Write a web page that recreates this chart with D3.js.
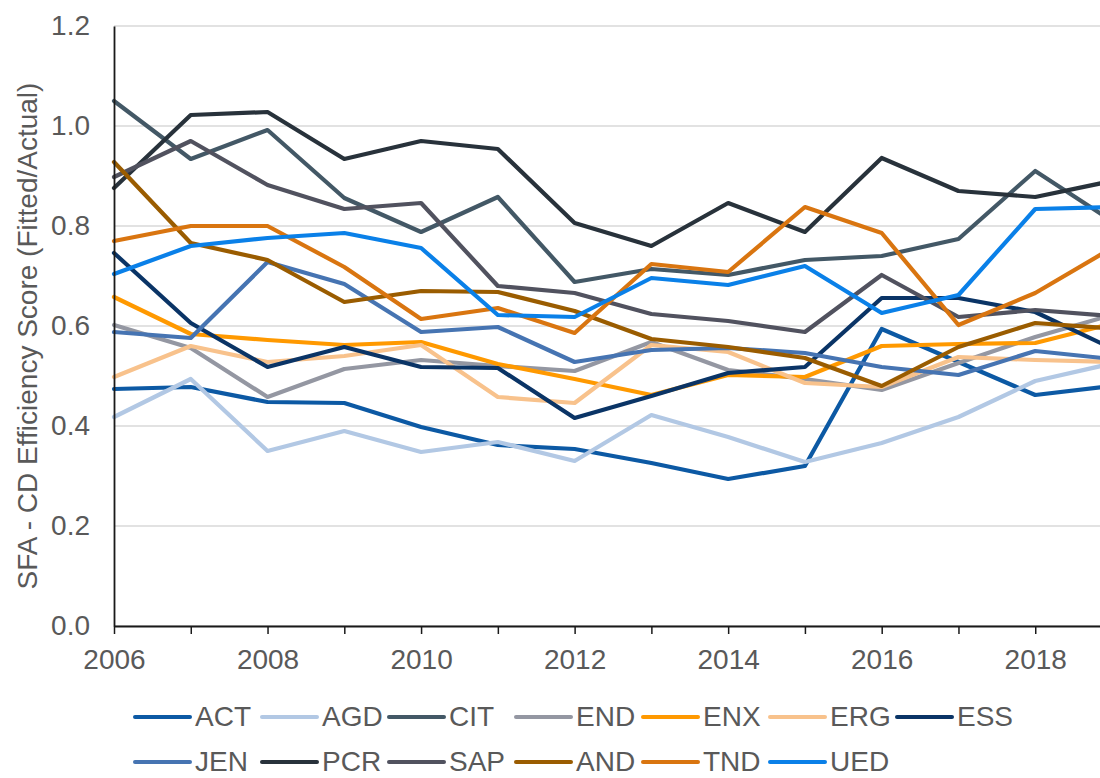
<!DOCTYPE html>
<html>
<head>
<meta charset="utf-8">
<script src="https://cdn.jsdelivr.net/npm/d3@7"></script>
<style>
  html, body { margin: 0; padding: 0; background: #fff; overflow: hidden; }
  svg { display: block; font-family: "Liberation Sans", Arial, sans-serif; }
</style>
</head>
<body>
<svg id="chart" width="1100" height="778"></svg>
<script>
const years = [2006,2007,2008,2009,2010,2011,2012,2013,2014,2015,2016,2017,2018,2019];
const yTicks = [0, 0.2, 0.4, 0.6, 0.8, 1.0, 1.2];
const xLabelYears = [2006, 2008, 2010, 2012, 2014, 2016, 2018];
const yTitle = "SFA - CD Efficiency Score (Fitted/Actual)";

const seriesNames = ["ACT","AGD","CIT","END","ENX","ERG","ESS","JEN","PCR","SAP","AND","TND","UED"];
const seriesColors = ["#0c59a4","#b2c8e4","#435866","#9497a2","#ff9900","#f8c28c","#0a3466","#4674b2","#28323b","#51525f","#9a5c00","#d97510","#0a80e8"];

const ACT = [0.474, 0.478, 0.448, 0.446, 0.398, 0.362, 0.354, 0.326, 0.294, 0.320, 0.594, 0.528, 0.462, 0.480];
const AGD = [0.418, 0.494, 0.350, 0.390, 0.348, 0.368, 0.330, 0.422, 0.378, 0.328, 0.366, 0.418, 0.490, 0.525];
const CIT = [1.050, 0.934, 0.992, 0.856, 0.788, 0.858, 0.688, 0.714, 0.702, 0.732, 0.740, 0.774, 0.910, 0.810];
const END = [0.602, 0.556, 0.458, 0.514, 0.532, 0.520, 0.510, 0.568, 0.512, 0.494, 0.472, 0.526, 0.578, 0.622];
const ENX = [0.658, 0.584, 0.572, 0.562, 0.568, 0.524, 0.494, 0.462, 0.502, 0.498, 0.560, 0.564, 0.566, 0.605];
const ERG = [0.498, 0.560, 0.528, 0.540, 0.562, 0.458, 0.446, 0.562, 0.548, 0.486, 0.478, 0.538, 0.532, 0.528];
const ESS = [0.746, 0.606, 0.518, 0.558, 0.518, 0.516, 0.416, 0.460, 0.506, 0.518, 0.656, 0.656, 0.628, 0.555];
const JEN = [0.588, 0.576, 0.728, 0.684, 0.588, 0.598, 0.528, 0.552, 0.556, 0.546, 0.518, 0.502, 0.550, 0.534];
const PCR = [0.876, 1.022, 1.028, 0.934, 0.970, 0.954, 0.806, 0.760, 0.846, 0.788, 0.936, 0.870, 0.858, 0.890];
const SAP = [0.898, 0.970, 0.882, 0.834, 0.846, 0.680, 0.666, 0.624, 0.610, 0.588, 0.702, 0.618, 0.632, 0.620];
const AND = [0.928, 0.766, 0.732, 0.648, 0.670, 0.668, 0.630, 0.574, 0.558, 0.536, 0.480, 0.558, 0.606, 0.595];
const TND = [0.770, 0.800, 0.800, 0.718, 0.614, 0.636, 0.586, 0.724, 0.708, 0.838, 0.786, 0.602, 0.666, 0.756];
const UED = [0.704, 0.760, 0.776, 0.786, 0.756, 0.622, 0.618, 0.696, 0.682, 0.720, 0.626, 0.662, 0.834, 0.838];

const seriesValues = [ACT, AGD, CIT, END, ENX, ERG, ESS, JEN, PCR, SAP, AND, TND, UED];

const series = seriesNames.map((name, i) => ({
  name, color: seriesColors[i],
  values: years.map((yr, j) => ({ year: yr, value: seriesValues[i][j] }))
}));

const svg = d3.select("#chart");
const x = d3.scaleLinear().domain([2006, 2019]).range([114, 1112]);
const y = d3.scaleLinear().domain([0, 1.2]).range([626, 26]);
const textColor = "#595959";

// gridlines
svg.append("g").selectAll("line").data(yTicks).join("line")
  .attr("x1", x(2006)).attr("x2", 1100)
  .attr("y1", d => y(d)).attr("y2", d => y(d))
  .attr("stroke", "#d9d9d9").attr("stroke-width", 1.5);

// lines
const line = d3.line().x(d => x(d.year)).y(d => y(d.value));
svg.append("g").selectAll("path").data(series).join("path")
  .attr("d", d => line(d.values))
  .attr("fill", "none")
  .attr("stroke", d => d.color)
  .attr("stroke-width", 4.2)
  .attr("stroke-linejoin", "round")
  .attr("stroke-linecap", "round");

// y axis
const yAxis = svg.append("g").attr("transform", `translate(${x(2006)},0)`)
  .call(d3.axisLeft(y).tickValues(yTicks).tickFormat(d3.format(".1f")).tickSize(0).tickPadding(24));
yAxis.select(".domain").attr("stroke", "#1a1a1a").attr("stroke-width", 1.8);
yAxis.selectAll("text").attr("font-size", 28).attr("fill", textColor)
  .attr("font-family", "'Liberation Sans', Arial, sans-serif");

// x axis
const xAxis = svg.append("g").attr("transform", `translate(0,${y(0)})`)
  .call(d3.axisBottom(x).tickValues(years)
    .tickFormat(d => xLabelYears.includes(d) ? String(d) : "")
    .tickSize(8).tickSizeOuter(0).tickPadding(15));
xAxis.select(".domain").attr("stroke", "#1a1a1a").attr("stroke-width", 1.8);
xAxis.selectAll(".tick line").attr("stroke", "#1a1a1a").attr("stroke-width", 1.5);
xAxis.selectAll("text").attr("font-size", 28).attr("fill", textColor)
  .attr("font-family", "'Liberation Sans', Arial, sans-serif");

// y title
svg.append("text")
  .attr("transform", `translate(37,${(y(0) + y(1.2)) / 2 + 10}) rotate(-90)`)
  .attr("text-anchor", "middle")
  .attr("font-size", 28)
  .attr("fill", textColor)
  .text(yTitle);

// legend
const legend = svg.append("g");
const items = legend.selectAll("g").data(series).join("g")
  .attr("transform", (d, i) => `translate(${135 + (i % 7) * 127},${i < 7 ? 717 : 762})`);
items.append("line")
  .attr("x1", 0).attr("x2", 55).attr("y1", 0).attr("y2", 0)
  .attr("stroke", d => d.color).attr("stroke-width", 4).attr("stroke-linecap", "round");
items.append("text")
  .attr("x", 60).attr("y", 9)
  .attr("font-size", 28).attr("fill", textColor)
  .text(d => d.name);
</script>
</body>
</html>
